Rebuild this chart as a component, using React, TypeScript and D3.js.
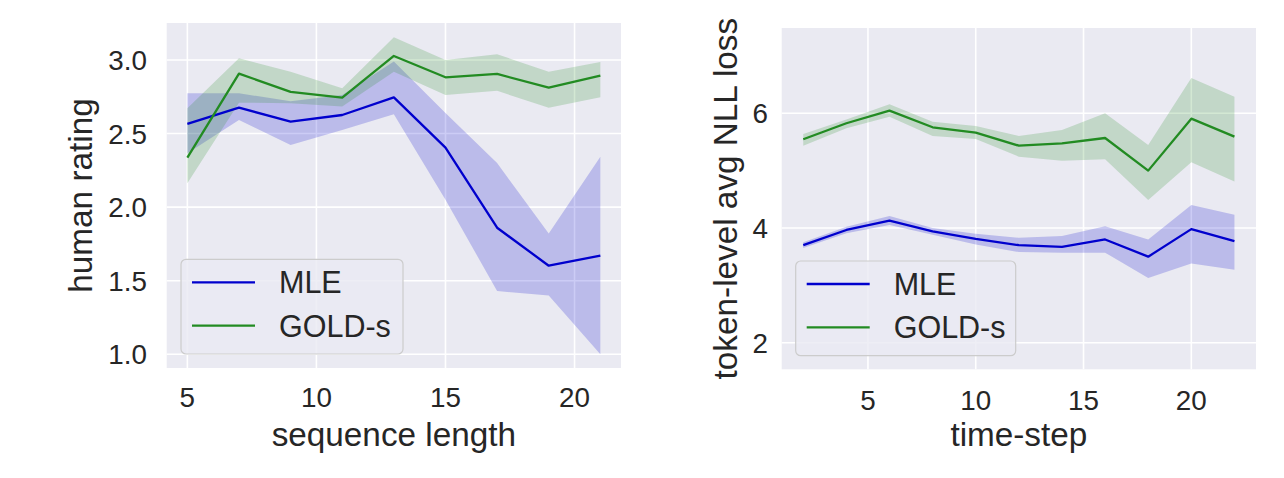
import React from "react";
import * as d3 from "d3";

// ---- Left panel data: human rating vs sequence length ----
const seqLen = [5, 7, 9, 11, 13, 15, 17, 19, 21];
const mleRating = [2.565, 2.676, 2.581, 2.626, 2.746, 2.404, 1.86, 1.602, 1.67];
const mleRatingLow = [2.366, 2.592, 2.422, 2.524, 2.631, 2.05, 1.43, 1.4, 1.0];
const mleRatingHigh = [2.773, 2.773, 2.72, 2.762, 2.99, 2.64, 2.3, 1.82, 2.343];
const goldRating = [2.336, 2.907, 2.783, 2.744, 3.027, 2.882, 2.905, 2.812, 2.893];
const goldRatingLow = [2.162, 2.71, 2.706, 2.683, 2.92, 2.762, 2.79, 2.676, 2.746];
const goldRatingHigh = [2.672, 3.011, 2.92, 2.807, 3.154, 3.0, 3.039, 2.92, 2.986];
const leftXTicks = [5, 10, 15, 20];
const leftYTicks = [1.0, 1.5, 2.0, 2.5, 3.0];

// ---- Right panel data: token-level NLL loss vs time-step ----
const timeStep = [2, 4, 6, 8, 10, 12, 14, 16, 18, 20, 22];
const mleNll = [3.7, 3.965, 4.127, 3.94, 3.81, 3.7, 3.67, 3.8, 3.5, 3.98, 3.77];
const mleNllLow = [3.65, 3.91, 4.05, 3.88, 3.71, 3.58, 3.57, 3.57, 3.13, 3.38, 3.27];
const mleNllHigh = [3.75, 4.02, 4.21, 4.0, 3.9, 3.83, 3.86, 4.03, 3.8, 4.4, 4.23];
const goldNll = [5.547, 5.826, 6.046, 5.756, 5.662, 5.435, 5.477, 5.569, 5.0, 5.906, 5.593];
const goldNllLow = [5.435, 5.74, 5.94, 5.604, 5.55, 5.244, 5.174, 5.198, 4.488, 5.146, 4.81];
const goldNllHigh = [5.64, 5.89, 6.157, 5.854, 5.78, 5.604, 5.709, 6.0, 5.447, 6.616, 6.29];
const rightXTicks = [5, 10, 15, 20];
const rightYTicks = [2, 4, 6];

const seriesNames = ["MLE", "GOLD-s"];
const seriesColors = ["#0000CD", "#228B22"];

const FONT = "'Liberation Sans', Arial, 'DejaVu Sans', sans-serif";
const TEXT = "#262626";
const BG = "#EAEAF2";

type Series = { mean: number[]; low: number[]; high: number[] };

interface PanelProps {
  xs: number[];
  series: Series[];
  xDomain: [number, number];
  yDomain: [number, number];
  left: number;
  right: number;
  top: number;
  bottom: number;
  xTicks: number[];
  yTicks: number[];
  yFmt: (v: number) => string;
  xLabel: string;
  yLabel: string;
  yLabelX: number;
  tickRight: number;
  xTickBase: number;
  legend: { x: number; y: number; w: number; h: number };
}

function Panel(p: PanelProps) {
  const x = d3.scaleLinear().domain(p.xDomain).range([p.left, p.right]);
  const y = d3.scaleLinear().domain(p.yDomain).range([p.bottom, p.top]);
  const line = d3
    .line<number>()
    .x((_, i) => x(p.xs[i]))
    .y((d) => y(d));
  const cx = (p.left + p.right) / 2;
  const cy = (p.top + p.bottom) / 2;
  const lg = p.legend;
  return (
    <g>
      <rect x={p.left} y={p.top} width={p.right - p.left} height={p.bottom - p.top} fill={BG} />
      {p.xTicks.map((t) => (
        <line key={"gx" + t} x1={x(t)} x2={x(t)} y1={p.top} y2={p.bottom} stroke="#fff" strokeWidth={1.6} />
      ))}
      {p.yTicks.map((t) => (
        <line key={"gy" + t} x1={p.left} x2={p.right} y1={y(t)} y2={y(t)} stroke="#fff" strokeWidth={1.6} />
      ))}
      {p.series.map((s, si) => {
        const area = d3
          .area<number>()
          .x((_, i) => x(p.xs[i]))
          .y0((_, i) => y(s.low[i]))
          .y1((_, i) => y(s.high[i]));
        return <path key={"a" + si} d={area(s.mean) || ""} fill={seriesColors[si]} fillOpacity={0.2} stroke="none" />;
      })}
      {p.series.map((s, si) => (
        <path key={"l" + si} d={line(s.mean) || ""} fill="none" stroke={seriesColors[si]} strokeWidth={2.3} strokeLinejoin="round" />
      ))}
      {p.xTicks.map((t) => (
        <text key={"tx" + t} x={x(t)} y={p.xTickBase} textAnchor="middle" fontSize={27.8} fill={TEXT} fontFamily={FONT}>
          {t}
        </text>
      ))}
      {p.yTicks.map((t) => (
        <text key={"ty" + t} x={p.tickRight} y={y(t)} dy="0.36em" textAnchor="end" fontSize={27.8} fill={TEXT} fontFamily={FONT}>
          {p.yFmt(t)}
        </text>
      ))}
      <text x={cx} y={446} textAnchor="middle" fontSize={33.3} fill={TEXT} fontFamily={FONT}>
        {p.xLabel}
      </text>
      <text
        transform={`translate(${p.yLabelX},${cy}) rotate(-90)`}
        textAnchor="middle"
        fontSize={33.3}
        fill={TEXT}
        fontFamily={FONT}
      >
        {p.yLabel}
      </text>
      <rect x={lg.x} y={lg.y} width={lg.w} height={lg.h} rx={5} fill={BG} fillOpacity={0.8} stroke="#cccccc" strokeWidth={1.2} />
      {seriesNames.map((n, i) => {
        const ly = lg.y + 23 + i * 43.3;
        return (
          <g key={"lg" + n}>
            <line x1={lg.x + 11} x2={lg.x + 74} y1={ly} y2={ly} stroke={seriesColors[i]} strokeWidth={2.3} />
            <text x={lg.x + 98} y={ly + 11} fontSize={30.5} fill={TEXT} fontFamily={FONT}>
              {n}
            </text>
          </g>
        );
      })}
    </g>
  );
}

export default function App() {
  const fmt1 = d3.format(".1f");
  const fmt0 = d3.format("d");
  return (
    <svg
      width={1284}
      height={478}
      viewBox="0 0 1284 478"
      style={{ position: "absolute", left: 0, top: 0, background: "#fff" }}
    >
      <Panel
        xs={seqLen}
        series={[
          { mean: mleRating, low: mleRatingLow, high: mleRatingHigh },
          { mean: goldRating, low: goldRatingLow, high: goldRatingHigh },
        ]}
        xDomain={[4.2, 21.8]}
        yDomain={[0.907, 3.251]}
        left={166.7}
        right={621}
        top={23}
        bottom={368}
        xTicks={leftXTicks}
        yTicks={leftYTicks}
        yFmt={fmt1}
        xLabel="sequence length"
        yLabel="human rating"
        yLabelX={92}
        tickRight={147}
        xTickBase={407}
        legend={{ x: 181, y: 259.3, w: 222, h: 94.7 }}
      />
      <Panel
        xs={timeStep}
        series={[
          { mean: mleNll, low: mleNllLow, high: mleNllHigh },
          { mean: goldNll, low: goldNllLow, high: goldNllHigh },
        ]}
        xDomain={[1, 23]}
        yDomain={[1.536, 7.487]}
        left={781.7}
        right={1256}
        top={28}
        bottom={369.3}
        xTicks={rightXTicks}
        yTicks={rightYTicks}
        yFmt={fmt0}
        xLabel="time-step"
        yLabel="token-level avg NLL loss"
        yLabelX={737}
        tickRight={768}
        xTickBase={409.5}
        legend={{ x: 795.7, y: 261, w: 220, h: 94.7 }}
      />
    </svg>
  );
}
